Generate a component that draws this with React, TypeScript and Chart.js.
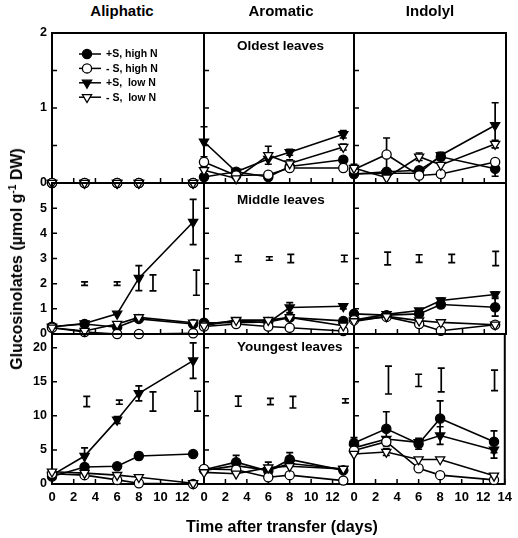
import React, { useEffect, useRef } from "react";
import { Chart, registerables } from "chart.js";
Chart.register(...registerables);

const FONT = "'Liberation Sans', Arial, Helvetica, sans-serif";

// ---- categories / labels ----
const columnTitles = ["Aliphatic", "Aromatic", "Indolyl"];
const rowTitles = ["Oldest leaves", "Middle leaves", "Youngest leaves"];
const seriesNames = ["+S, high N", "- S, high N", "+S,  low N", "- S,  low N"];
const days = [0, 3, 6, 8, 13];

// ---- ticks ----
const xTickValues = [0, 2, 4, 6, 8, 10, 12, 14];
const yMaxByRow = [2, 6, 22];
const yTicksOldest = [0, 0.5, 1, 1.5, 2];
const yTicksMiddle = [0, 1, 2, 3, 4, 5, 6];
const yTicksYoungest = [0, 5, 10, 15, 20];
const yLabelsOldest = [0, 1, 2];
const yLabelsMiddle = [0, 1, 2, 3, 4, 5];
const yLabelsYoungest = [0, 5, 10, 15, 20];

const none = [0, 0, 0, 0, 0];

// ---- Oldest leaves ----
const oldAli_pH = [0, 0, 0, 0, 0];
const oldAli_mH = [0, 0, 0, 0, 0];
const oldAli_pL = [0, 0, 0, 0, 0];
const oldAli_mL = [0, 0, 0, 0, 0];

const oldAro_pH = [0.08, 0.15, 0.08, 0.22, 0.31];
const oldAro_mH = [0.28, 0.1, 0.11, 0.2, 0.2];
const oldAro_pL = [0.55, 0.15, 0.32, 0.41, 0.65];
const oldAro_mL = [0.17, 0.06, 0.37, 0.26, 0.48];
const oldAro_pH_err = [0, 0, 0, 0, 0.04];
const oldAro_pL_err = [0.2, 0, 0, 0.04, 0.05];
const oldAro_mL_err = [0.05, 0, 0.12, 0.05, 0.04];

const oldInd_pH = [0.12, 0.15, 0.17, 0.35, 0.19];
const oldInd_mH = [0.18, 0.38, 0.1, 0.12, 0.28];
const oldInd_pL = [0.12, 0.13, 0.13, 0.37, 0.77];
const oldInd_mL = [0.2, 0.07, 0.35, 0.24, 0.52];
const oldInd_pH_err = [0, 0, 0, 0.05, 0.1];
const oldInd_mH_err = [0, 0.22, 0, 0, 0];
const oldInd_pL_err = [0, 0, 0, 0.04, 0.3];
const oldInd_mL_err = [0.05, 0, 0.05, 0, 0.05];

// ---- Middle leaves ----
const midAli_pH = [0.29, 0.4, 0.27, 0.6, 0.4];
const midAli_mH = [0.25, 0.08, 0.0, 0.0, 0.03];
const midAli_pL = [0.29, 0.42, 0.8, 2.22, 4.45];
const midAli_mL = [0.25, 0.12, 0.4, 0.66, 0.45];
const midAli_pH_err = [0, 0, 0, 0.06, 0.05];
const midAli_pL_err = [0, 0, 0, 0.5, 0.9];
const midAli_lsdX = [3, 6, 9.3, 13.3];
const midAli_lsdY = [2.0, 2.0, 2.03, 2.04];
const midAli_lsdE = [0.07, 0.07, 0.32, 0.5];

const midAro_pH = [0.45, 0.45, 0.48, 0.65, 0.52];
const midAro_mH = [0.3, 0.4, 0.3, 0.25, 0.12];
const midAro_pL = [0.4, 0.52, 0.45, 1.05, 1.1];
const midAro_mL = [0.33, 0.55, 0.55, 0.66, 0.33];
const midAro_pL_err = [0, 0, 0, 0.2, 0.1];
const midAro_lsdX = [3.2, 6.1, 8.1, 13.1];
const midAro_lsdY = [3.0, 3.0, 3.0, 3.0];
const midAro_lsdE = [0.13, 0.07, 0.16, 0.13];

const midInd_pH = [0.8, 0.75, 0.8, 1.17, 1.06];
const midInd_mH = [0.55, 0.68, 0.4, 0.13, 0.37];
const midInd_pL = [0.55, 0.78, 0.93, 1.33, 1.57];
const midInd_mL = [0.5, 0.7, 0.53, 0.46, 0.37];
const midInd_pH_err = [0, 0, 0, 0.12, 0.35];
const midInd_pL_err = [0, 0, 0, 0.1, 0.1];
const midInd_lsdX = [3.1, 6.0, 9.0, 13.05];
const midInd_lsdY = [3.0, 3.0, 3.0, 3.0];
const midInd_lsdE = [0.25, 0.15, 0.16, 0.28];

// ---- Youngest leaves ----
const youAli_pH = [1.1, 2.5, 2.6, 4.1, 4.4];
const youAli_mH = [1.5, 1.3, 0.6, 0.1, 0.0];
const youAli_pL = [1.3, 4.1, 9.4, 13.3, 18.1];
const youAli_mL = [1.8, 1.6, 1.3, 1.0, 0.1];
const youAli_pH_err = [0, 0, 0, 0.5, 0];
const youAli_pL_err = [0, 1.2, 0.5, 1.1, 2.6];
const youAli_lsdX = [3.2, 6.2, 9.3, 13.4];
const youAli_lsdY = [12.1, 12.0, 12.1, 12.15];
const youAli_lsdE = [0.75, 0.3, 1.4, 1.45];

const youAro_pH = [2.1, 3.2, 1.9, 3.6, 2.0];
const youAro_mH = [2.2, 2.1, 1.0, 1.3, 0.5];
const youAro_pL = [2.0, 2.7, 2.0, 3.0, 2.2];
const youAro_mL = [1.7, 1.5, 2.4, 2.6, 2.2];
const youAro_pH_err = [0, 1.0, 0, 1.0, 0];
const youAro_mL_err = [0, 0, 0.8, 0, 0];
const youAro_lsdX = [3.2, 6.2, 8.3, 13.2];
const youAro_lsdY = [12.15, 12.1, 12.0, 12.2];
const youAro_lsdE = [0.75, 0.45, 0.85, 0.3];

const youInd_pH = [6.0, 8.1, 5.9, 9.6, 6.2];
const youInd_mH = [4.9, 6.2, 2.3, 1.3, 0.6];
const youInd_pL = [5.3, 6.6, 6.1, 7.1, 5.0];
const youInd_mL = [4.4, 4.7, 3.6, 3.6, 1.2];
const youInd_pH_err = [0.8, 2.5, 0.8, 2.6, 1.6];
const youInd_pL_err = [0, 0, 0, 1.3, 1.2];
const youInd_mL_err = [0, 0.5, 0, 0, 0];
const youInd_lsdX = [3.2, 6.0, 8.1, 13.05];
const youInd_lsdY = [15.25, 15.2, 15.25, 15.2];
const youInd_lsdE = [2.05, 0.9, 1.75, 1.5];

// ---- panel table (built from the arrays) ----
type Lsd = { x: number[]; y: number[]; e: number[] } | null;
type PanelDef = { row: number; col: number; values: number[][]; errors: number[][]; lsd: Lsd };

const panels: PanelDef[] = [
  { row: 0, col: 0, values: [oldAli_pH, oldAli_mH, oldAli_pL, oldAli_mL], errors: [none, none, none, none], lsd: null },
  { row: 0, col: 1, values: [oldAro_pH, oldAro_mH, oldAro_pL, oldAro_mL], errors: [oldAro_pH_err, none, oldAro_pL_err, oldAro_mL_err], lsd: null },
  { row: 0, col: 2, values: [oldInd_pH, oldInd_mH, oldInd_pL, oldInd_mL], errors: [oldInd_pH_err, oldInd_mH_err, oldInd_pL_err, oldInd_mL_err], lsd: null },
  { row: 1, col: 0, values: [midAli_pH, midAli_mH, midAli_pL, midAli_mL], errors: [midAli_pH_err, none, midAli_pL_err, none], lsd: { x: midAli_lsdX, y: midAli_lsdY, e: midAli_lsdE } },
  { row: 1, col: 1, values: [midAro_pH, midAro_mH, midAro_pL, midAro_mL], errors: [none, none, midAro_pL_err, none], lsd: { x: midAro_lsdX, y: midAro_lsdY, e: midAro_lsdE } },
  { row: 1, col: 2, values: [midInd_pH, midInd_mH, midInd_pL, midInd_mL], errors: [midInd_pH_err, none, midInd_pL_err, none], lsd: { x: midInd_lsdX, y: midInd_lsdY, e: midInd_lsdE } },
  { row: 2, col: 0, values: [youAli_pH, youAli_mH, youAli_pL, youAli_mL], errors: [youAli_pH_err, none, youAli_pL_err, none], lsd: { x: youAli_lsdX, y: youAli_lsdY, e: youAli_lsdE } },
  { row: 2, col: 1, values: [youAro_pH, youAro_mH, youAro_pL, youAro_mL], errors: [youAro_pH_err, none, none, youAro_mL_err], lsd: { x: youAro_lsdX, y: youAro_lsdY, e: youAro_lsdE } },
  { row: 2, col: 2, values: [youInd_pH, youInd_mH, youInd_pL, youInd_mL], errors: [youInd_pH_err, none, youInd_pL_err, youInd_mL_err], lsd: { x: youInd_lsdX, y: youInd_lsdY, e: youInd_lsdE } },
];

const yTicksByRow = [yTicksOldest, yTicksMiddle, yTicksYoungest];
const yLabelsByRow = [yLabelsOldest, yLabelsMiddle, yLabelsYoungest];

// ---- layout / style ----
const COL_LEFT = [52, 204, 354];
const COL_W = [152, 150, 152];
const ROW_TOP = [33, 183, 334];
const ROW_H = [150, 151, 150];
const ML = 46, MR = 12, MT = 14, MB = 30;

const SERIES_STYLE = [
  { shape: "circle", fill: "#000", r: 4.6, order: 3 },
  { shape: "circle", fill: "#fff", r: 4.6, order: 1 },
  { shape: "tri", fill: "#000", r: 5.3, order: 2 },
  { shape: "tri", fill: "#fff", r: 5.3, order: 0 },
];

function drawMarker(ctx: CanvasRenderingContext2D, shape: string, fill: string, x: number, y: number, r: number) {
  ctx.beginPath();
  if (shape === "circle") {
    ctx.arc(x, y, r, 0, Math.PI * 2);
  } else {
    for (let k = 0; k < 3; k++) {
      const ang = Math.PI + (k * 2 * Math.PI) / 3;
      const px = x + Math.sin(ang) * r;
      const py = y - Math.cos(ang) * r;
      if (k === 0) ctx.moveTo(px, py);
      else ctx.lineTo(px, py);
    }
    ctx.closePath();
  }
  ctx.fillStyle = fill;
  ctx.fill();
  ctx.lineWidth = 1.3;
  ctx.strokeStyle = "#000";
  ctx.stroke();
}

function Panel({ p }: { p: PanelDef }) {
  const ref = useRef<HTMLCanvasElement>(null);
  const w = COL_W[p.col] + ML + MR;
  const h = ROW_H[p.row] + MT + MB;
  useEffect(() => {
    const canvas = ref.current!;
    const yMax = yMaxByRow[p.row];
    const datasets: any[] = [];
    SERIES_STYLE.forEach((st, k) => {
      datasets.push({
        label: seriesNames[k],
        data: days.map((d, i) => ({ x: d, y: p.values[k][i] })),
        errors: p.errors[k],
        borderColor: "#000",
        borderWidth: 1.6,
        pointStyle: st.shape === "circle" ? "circle" : "triangle",
        pointRotation: st.shape === "tri" ? 180 : 0,
        pointRadius: st.r,
        pointBackgroundColor: st.fill,
        pointBorderColor: "#000",
        pointBorderWidth: 1.3,
        order: st.order,
        clip: false,
        tension: 0,
      });
    });
    if (p.lsd) {
      const l = p.lsd;
      datasets.push({
        label: "LSD",
        data: l.x.map((x, i) => ({ x, y: l.y[i] })),
        errors: l.e,
        showLine: false,
        pointRadius: 0,
        order: 9,
      });
    }
    const deco = {
      id: "deco",
      beforeDatasetsDraw(chart: any) {
        const { ctx, chartArea: a, scales } = chart;
        const xs = scales.x, ys = scales.y;
        ctx.save();
        ctx.strokeStyle = "#000";
        // error bars
        chart.data.datasets.forEach((ds: any) => {
          const errs = ds.errors;
          if (!errs) return;
          ds.data.forEach((pt: any, j: number) => {
            const e = errs[j];
            if (!e) return;
            const px = xs.getPixelForValue(pt.x);
            const hi = Math.min(pt.y + e, yMax);
            const lo = Math.max(pt.y - e, 0);
            const top = ys.getPixelForValue(hi);
            const bot = ys.getPixelForValue(lo);
            ctx.lineWidth = 1.7;
            ctx.beginPath();
            ctx.moveTo(px, top);
            ctx.lineTo(px, bot);
            ctx.moveTo(px - 3.5, top);
            ctx.lineTo(px + 3.5, top);
            if (lo > 0) {
              ctx.moveTo(px - 3.5, bot);
              ctx.lineTo(px + 3.5, bot);
            }
            ctx.stroke();
          });
        });
        // inward ticks
        ctx.lineWidth = 1.5;
        ctx.beginPath();
        xTickValues.forEach((v) => {
          const px = xs.getPixelForValue(v);
          ctx.moveTo(px, a.bottom);
          ctx.lineTo(px, a.bottom - 5);
        });
        yTicksByRow[p.row].forEach((v) => {
          const py = ys.getPixelForValue(v);
          ctx.moveTo(a.left, py);
          ctx.lineTo(a.left + 5, py);
        });
        ctx.stroke();
        // frame
        ctx.lineWidth = 2;
        ctx.strokeRect(a.left, a.top, a.right - a.left, a.bottom - a.top);
        ctx.restore();
      },
      afterDraw(chart: any) {
        if (!(p.row === 0 && p.col === 0)) return;
        const { ctx, chartArea: a } = chart;
        ctx.save();
        SERIES_STYLE.forEach((st, k) => {
          const y = a.top + 21 + 14.4 * k;
          ctx.strokeStyle = "#000";
          ctx.lineWidth = 1.5;
          ctx.beginPath();
          ctx.moveTo(a.left + 27, y);
          ctx.lineTo(a.left + 49, y);
          ctx.stroke();
          drawMarker(ctx, st.shape, st.fill, a.left + 35, y, st.r);
          ctx.fillStyle = "#000";
          ctx.font = `bold 10.5px ${FONT}`;
          ctx.textBaseline = "middle";
          ctx.textAlign = "left";
          ctx.fillText(seriesNames[k], a.left + 54, y + 0.5);
        });
        ctx.restore();
      },
    };
    const chart = new Chart(canvas, {
      type: "line",
      data: { datasets },
      options: {
        responsive: false,
        animation: false,
        events: [],
        layout: { padding: { top: MT, right: MR, left: 0, bottom: 0 } },
        plugins: { legend: { display: false }, tooltip: { enabled: false } },
        scales: {
          x: {
            type: "linear",
            min: 0,
            max: 14,
            grid: { display: false, drawTicks: false },
            border: { display: false },
            afterBuildTicks: (s: any) => {
              s.ticks = xTickValues.map((v) => ({ value: v }));
            },
            afterFit: (s: any) => {
              s.height = MB;
            },
            ticks: {
              display: p.row === 2,
              autoSkip: false,
              maxRotation: 0,
              minRotation: 0,
              padding: 6,
              color: "#000",
              font: { family: FONT, size: 13, weight: "bold" },
              callback: (v: any) => (p.col < 2 && v === 14 ? "" : String(v)),
            },
          },
          y: {
            type: "linear",
            min: 0,
            max: yMax,
            grid: { display: false, drawTicks: false },
            border: { display: false },
            afterBuildTicks: (s: any) => {
              s.ticks = yTicksByRow[p.row].map((v) => ({ value: v }));
            },
            afterFit: (s: any) => {
              s.width = ML;
            },
            ticks: {
              display: p.col === 0,
              autoSkip: false,
              padding: 5,
              color: "#000",
              font: { family: FONT, size: 12.5, weight: "bold" },
              callback: (v: any) => (yLabelsByRow[p.row].includes(v) ? String(v) : ""),
            },
          },
        },
      } as any,
      plugins: [deco],
    });
    return () => chart.destroy();
  }, []);
  return (
    <canvas
      ref={ref}
      width={w}
      height={h}
      style={{
        position: "absolute",
        left: COL_LEFT[p.col] - ML,
        top: ROW_TOP[p.row] - MT,
        width: w,
        height: h,
      }}
    />
  );
}

const COL_TITLE_X = [122, 281, 430];
const ROW_TITLE_Y = [45.7, 199.5, 346.7];

export default function App() {
  return (
    <div
      style={{
        position: "absolute",
        left: 0,
        top: 0,
        width: 518,
        height: 538,
        overflow: "hidden",
        background: "#fff",
        fontFamily: FONT,
        color: "#000",
      }}
    >
      {panels.map((p) => (
        <Panel key={`${p.row}-${p.col}`} p={p} />
      ))}
      {columnTitles.map((t, i) => (
        <div
          key={t}
          style={{
            position: "absolute",
            left: COL_TITLE_X[i],
            top: 10 - 7.5,
            transform: "translateX(-50%)",
            fontSize: 15,
            lineHeight: "15px",
            fontWeight: "bold",
            whiteSpace: "nowrap",
          }}
        >
          {t}
        </div>
      ))}
      {rowTitles.map((t, i) => (
        <div
          key={t}
          style={{
            position: "absolute",
            left: 237,
            top: ROW_TITLE_Y[i] - 6.75,
            fontSize: 13.5,
            lineHeight: "13.5px",
            fontWeight: "bold",
            whiteSpace: "nowrap",
          }}
        >
          {t}
        </div>
      ))}
      <div
        style={{
          position: "absolute",
          left: 17,
          top: 259,
          transform: "translate(-50%, -50%) rotate(-90deg)",
          fontSize: 16,
          lineHeight: "16px",
          fontWeight: "bold",
          whiteSpace: "nowrap",
        }}
      >
        Glucosinolates (µmol g<sup style={{ fontSize: 10, lineHeight: 0, verticalAlign: "6px" }}>-1</sup> DW)
      </div>
      <div
        style={{
          position: "absolute",
          left: 282,
          top: 527 - 8,
          transform: "translateX(-50%)",
          fontSize: 16,
          lineHeight: "16px",
          fontWeight: "bold",
          whiteSpace: "nowrap",
        }}
      >
        Time after transfer (days)
      </div>
    </div>
  );
}
